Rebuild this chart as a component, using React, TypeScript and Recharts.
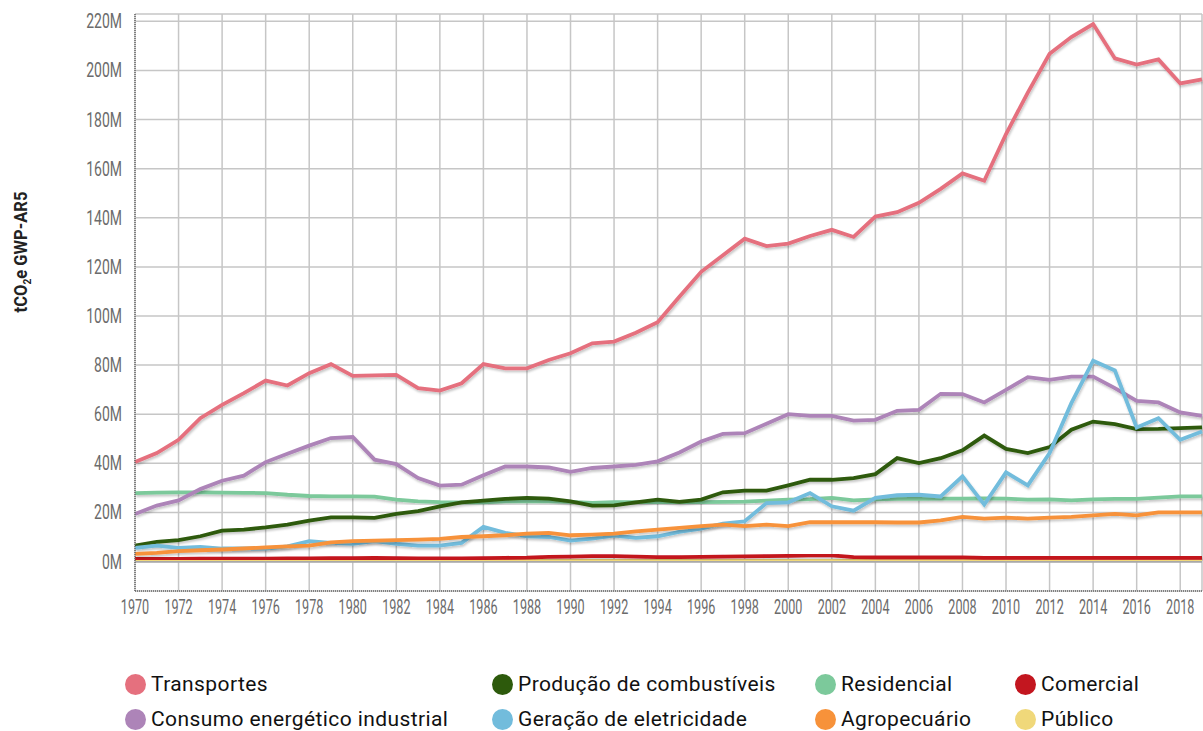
import React from 'react'
import { LineChart, Line, XAxis, YAxis, CartesianGrid, ReferenceLine } from 'recharts'

// emissões por setor, em milhões de tCO2e (GWP-AR5)
const years = [
  1970, 1971, 1972, 1973, 1974, 1975, 1976, 1977, 1978, 1979,
  1980, 1981, 1982, 1983, 1984, 1985, 1986, 1987, 1988, 1989,
  1990, 1991, 1992, 1993, 1994, 1995, 1996, 1997, 1998, 1999,
  2000, 2001, 2002, 2003, 2004, 2005, 2006, 2007, 2008, 2009,
  2010, 2011, 2012, 2013, 2014, 2015, 2016, 2017, 2018, 2019,
]

const transportes = [
  40.5, 44.2, 49.6, 58.4, 63.8, 68.6, 73.7, 71.7, 76.7, 80.4,
  75.6, 75.8, 76.0, 70.6, 69.6, 72.6, 80.4, 78.7, 78.7, 82.1,
  84.8, 88.9, 89.6, 93.2, 97.5, 107.8, 118.0, 124.7, 131.5, 128.5,
  129.5, 132.6, 135.1, 132.2, 140.5, 142.3, 146.1, 151.8, 158.1, 155.1,
  174.1, 191.0, 206.8, 213.6, 218.9, 204.9, 202.4, 204.5, 194.7, 196.4,
]

const consumoIndustrial = [
  19.4, 22.8, 24.9, 29.5, 32.9, 35.0, 40.5, 43.9, 47.2, 50.3,
  50.7, 41.5, 39.7, 34.0, 30.9, 31.3, 35.1, 38.7, 38.7, 38.3,
  36.5, 38.1, 38.7, 39.4, 40.8, 44.4, 48.9, 52.0, 52.3, 56.1,
  60.0, 59.3, 59.3, 57.4, 57.7, 61.4, 61.8, 68.3, 68.2, 64.8,
  69.9, 75.1, 74.0, 75.3, 75.3, 70.6, 65.4, 64.8, 60.7, 59.3,
]

const residencial = [
  27.9, 28.1, 28.2, 28.2, 28.1, 28.0, 27.9, 27.2, 26.7, 26.5,
  26.5, 26.4, 25.2, 24.5, 24.2, 24.1, 24.1, 24.5, 24.6, 24.5,
  24.3, 23.9, 24.2, 24.2, 24.2, 24.2, 24.2, 24.3, 24.4, 24.8,
  25.2, 25.4, 25.9, 24.9, 25.3, 25.5, 25.5, 25.6, 25.6, 25.7,
  25.6, 25.2, 25.3, 24.9, 25.3, 25.5, 25.5, 26.0, 26.5, 26.5,
]

const producaoCombustiveis = [
  6.5, 8.0, 8.7, 10.3, 12.6, 13.0, 13.9, 15.0, 16.7, 18.0,
  18.0, 17.8, 19.4, 20.5, 22.5, 24.1, 24.8, 25.5, 25.9, 25.6,
  24.5, 22.8, 22.9, 24.1, 25.2, 24.3, 25.2, 28.2, 28.9, 28.9,
  31.0, 33.3, 33.3, 34.0, 35.6, 42.1, 40.1, 42.1, 45.3, 51.3,
  45.9, 44.2, 46.6, 53.7, 57.0, 56.0, 53.9, 54.0, 54.3, 54.6,
]

const geracaoEletricidade = [
  5.6, 6.5, 5.6, 6.0, 5.3, 5.3, 5.3, 6.2, 8.3, 7.6,
  7.2, 8.3, 7.2, 6.5, 6.5, 7.6, 14.1, 11.7, 10.3, 10.0,
  8.5, 9.3, 10.6, 9.6, 10.3, 12.1, 13.4, 15.4, 16.4, 23.8,
  24.1, 27.9, 22.5, 20.7, 25.9, 27.0, 27.2, 26.5, 34.7, 23.2,
  36.3, 31.0, 44.2, 64.5, 81.8, 77.8, 54.6, 58.4, 49.6, 53.0,
]

const agropecuario = [
  3.1, 3.5, 4.2, 4.6, 4.9, 5.3, 5.8, 6.2, 6.5, 7.8,
  8.3, 8.5, 8.7, 8.9, 9.2, 10.0, 10.3, 10.7, 11.4, 11.7,
  10.7, 11.0, 11.4, 12.3, 13.0, 13.7, 14.4, 15.0, 14.4, 15.0,
  14.4, 16.0, 16.0, 16.0, 16.0, 15.9, 15.9, 16.8, 18.2, 17.5,
  17.9, 17.5, 17.9, 18.2, 18.8, 19.4, 18.8, 20.0, 20.0, 20.0,
]

const comercial = [
  1.1, 1.1, 1.1, 1.2, 1.2, 1.2, 1.2, 1.3, 1.3, 1.4,
  1.4, 1.5, 1.4, 1.3, 1.3, 1.3, 1.4, 1.5, 1.6, 1.9,
  2.0, 2.2, 2.2, 2.0, 1.8, 1.8, 1.9, 2.0, 2.1, 2.2,
  2.3, 2.5, 2.5, 1.8, 1.7, 1.7, 1.7, 1.7, 1.7, 1.5,
  1.5, 1.5, 1.5, 1.5, 1.5, 1.5, 1.5, 1.5, 1.5, 1.5,
]

const publico = [
  0.4, 0.4, 0.4, 0.4, 0.4, 0.4, 0.4, 0.4, 0.4, 0.4,
  0.4, 0.4, 0.4, 0.4, 0.4, 0.4, 0.4, 0.5, 0.7, 0.7,
  0.7, 0.7, 0.7, 0.7, 0.6, 0.5, 0.5, 0.5, 0.5, 0.5,
  0.5, 0.5, 0.5, 0.6, 0.6, 0.6, 0.6, 0.6, 0.6, 0.6,
  0.6, 0.6, 0.6, 0.6, 0.6, 0.6, 0.6, 0.6, 0.6, 0.6,
]

const yTicks = [0, 20, 40, 60, 80, 100, 120, 140, 160, 180, 200, 220]
const xTicks = [1970, 1972, 1974, 1976, 1978, 1980, 1982, 1984, 1986, 1988, 1990, 1992, 1994,
  1996, 1998, 2000, 2002, 2004, 2006, 2008, 2010, 2012, 2014, 2016, 2018]

const data = years.map((year, i) => ({
  year,
  transportes: transportes[i],
  consumo: consumoIndustrial[i],
  residencial: residencial[i],
  producao: producaoCombustiveis[i],
  geracao: geracaoEletricidade[i],
  agro: agropecuario[i],
  comercial: comercial[i],
  publico: publico[i],
}))

const COLORS = {
  transportes: '#e5707e',
  consumo: '#ad84b8',
  residencial: '#7cc99b',
  producao: '#2d5a0c',
  geracao: '#72bcdc',
  agro: '#f7923a',
  comercial: '#c3161f',
  publico: '#f0d87a',
}

// ordem de desenho (de baixo para cima)
const drawOrder = ['publico', 'comercial', 'residencial', 'producao', 'consumo', 'geracao', 'agro', 'transportes']

const legendRows = [
  [
    { key: 'transportes', label: 'Transportes', left: 125 },
    { key: 'producao', label: 'Produção de combustíveis', left: 492 },
    { key: 'residencial', label: 'Residencial', left: 815 },
    { key: 'comercial', label: 'Comercial', left: 1015 },
  ],
  [
    { key: 'consumo', label: 'Consumo energético industrial', left: 125 },
    { key: 'geracao', label: 'Geração de eletricidade', left: 492 },
    { key: 'agro', label: 'Agropecuário', left: 815 },
    { key: 'publico', label: 'Público', left: 1015 },
  ],
]

const tickFont = 'Roboto, sans-serif'

// sem fonte condensada instalada: estreita o Roboto com scale
function XTick(props: any) {
  const { x, y, payload } = props
  return (
    <text
      transform={`translate(${x},${y + 17}) scale(0.63,1)`}
      x={0}
      y={0}
      textAnchor="middle"
      fontFamily={tickFont}
      fontSize={20}
      fill="#6b6b6b"
    >
      {payload.value}
    </text>
  )
}

function YTick(props: any) {
  const { x, y, payload } = props
  return (
    <text
      transform={`translate(${x},${y + 7}) scale(0.7,1)`}
      x={0}
      y={0}
      textAnchor="end"
      fontFamily={tickFont}
      fontSize={20}
      fill="#6b6b6b"
    >
      {`${payload.value}M`}
    </text>
  )
}

export default function App() {
  return (
    <div style={{ position: 'absolute', left: 0, top: 0, width: 1203, height: 731, background: '#fff' }}>
      <LineChart
        width={1203}
        height={731}
        data={data}
        margin={{ top: 14, right: 1, bottom: 100, left: 0 }}
      >
        <defs>
          <filter id="lineShadow" x="-5%" y="-20%" width="110%" height="140%">
            <feDropShadow dx="1" dy="2" stdDeviation="1.2" floodColor="#000" floodOpacity="0.22" />
          </filter>
        </defs>
        <CartesianGrid stroke="#c6c6c6" strokeWidth={1.5} />
        <XAxis
          type="number"
          dataKey="year"
          domain={[1970, 2019]}
          ticks={xTicks}
          interval={0}
          height={40}
          tickLine={false}
          tickMargin={0}
          axisLine={{ stroke: '#666', strokeDasharray: '1 1', strokeWidth: 1.5 }}
          tick={<XTick />}
        />
        <YAxis
          type="number"
          domain={[-12, 223]}
          ticks={yTicks}
          width={135}
          tickLine={false}
          tickSize={0}
          tickMargin={13}
          allowDataOverflow
          axisLine={{ stroke: '#666', strokeDasharray: '1 1', strokeWidth: 1.5 }}
          tick={<YTick />}
        />
        <ReferenceLine y={0} stroke="#a8a8a8" strokeWidth={2.5} />
        {drawOrder.map((key) => (
          <Line
            key={key}
            type="linear"
            dataKey={key}
            stroke={COLORS[key as keyof typeof COLORS]}
            strokeWidth={3.8}
            dot={false}
            activeDot={false}
            filter="url(#lineShadow)"
            isAnimationActive={false}
          />
        ))}
        <text
          transform="translate(27,252) rotate(-90) scale(0.92,1)"
          x={0}
          y={0}
          textAnchor="middle"
          fontFamily={tickFont}
          fontWeight="bold"
          fontSize={18}
          fill="#222"
        >
          tCO<tspan fontSize={11} dy={4}>2</tspan><tspan dy={-4}>e GWP-AR5</tspan>
        </text>
      </LineChart>
      {legendRows.map((row, r) =>
        row.map((item) => (
          <div
            key={item.key}
            style={{
              position: 'absolute',
              left: item.left,
              top: 673 + r * 35,
              height: 22,
              display: 'flex',
              alignItems: 'center',
              fontFamily: 'Roboto, sans-serif',
              fontSize: 21,
              letterSpacing: 0.4,
              color: '#111',
              whiteSpace: 'nowrap',
            }}
          >
            <span
              style={{
                display: 'inline-block',
                width: 21,
                height: 21,
                borderRadius: '50%',
                background: COLORS[item.key as keyof typeof COLORS],
                marginRight: 5,
              }}
            />
            {item.label}
          </div>
        ))
      )}
    </div>
  )
}
